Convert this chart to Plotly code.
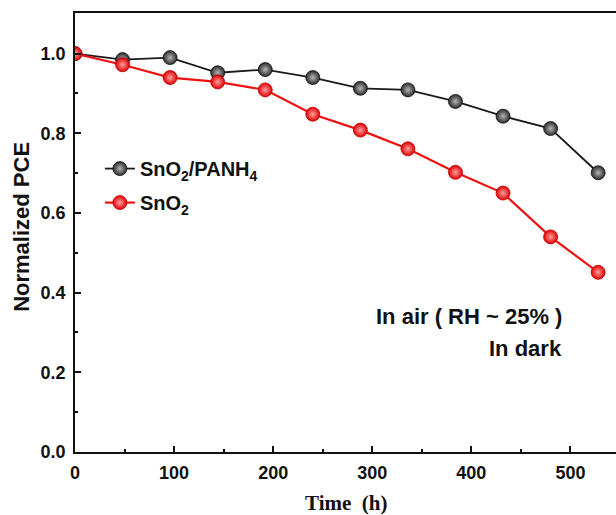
import plotly.graph_objects as go

time_h = [0, 48, 96, 144, 192, 240, 288, 336, 384, 432, 480, 528]
pce_panh4 = [1.00, 0.985, 0.99, 0.952, 0.96, 0.94, 0.913, 0.909, 0.88, 0.843, 0.812, 0.701]
pce_sno2 = [1.00, 0.972, 0.94, 0.929, 0.909, 0.848, 0.808, 0.761, 0.702, 0.650, 0.540, 0.451]

x_ticks = [0, 100, 200, 300, 400, 500]
y_ticks = [0.0, 0.2, 0.4, 0.6, 0.8, 1.0]

fig = go.Figure()
fig.add_trace(go.Scatter(
    x=time_h, y=pce_panh4, mode="lines+markers",
    name="SnO<sub>2</sub>/PANH<sub>4</sub>", legendgroup="a",
    line=dict(color="#1a1a1a", width=1.8),
    marker=dict(size=14, color="#2b2b2b", line=dict(width=0.8, color="#111"),
                gradient=dict(type="radial", color="#b5b5b5")),
))
fig.add_trace(go.Scatter(
    x=time_h, y=pce_sno2, mode="lines+markers",
    name="SnO<sub>2</sub>", legendgroup="b",
    line=dict(color="#ee1111", width=2.2),
    marker=dict(size=14, color="#e00000", line=dict(width=0.8, color="#c00000"),
                gradient=dict(type="radial", color="#ffa0a0")),
))

axis_font = dict(family="Liberation Sans", size=18, color="#111", weight="bold")

fig.update_layout(
    width=616, height=515,
    margin=dict(l=75, r=0, t=13, b=63),
    paper_bgcolor="white", plot_bgcolor="white",
    showlegend=True,
    legend=dict(x=0.046, y=0.69, xanchor="left", yanchor="top",
                font=dict(family="Liberation Sans", size=20, color="#111", weight="bold"),
                bgcolor="rgba(0,0,0,0)", tracegroupgap=5, traceorder="grouped"),
    xaxis=dict(range=[0, 546], tickvals=x_ticks, ticks="inside", ticklen=6,
               tickwidth=1.8, tickcolor="#111", showline=True, linecolor="#111",
               linewidth=1.8, mirror=True, showgrid=False, zeroline=False,
               tickfont=axis_font, ticklabelstandoff=3,
               minor=dict(tickvals=[50, 150, 250, 350, 450], ticks="inside",
                          ticklen=3, tickcolor="#111", tickwidth=1.8)),
    yaxis=dict(range=[0, 1.102], tickvals=y_ticks, tickformat=".1f", ticks="inside",
               ticklen=6, tickwidth=1.8, tickcolor="#111", showline=True,
               linecolor="#111", linewidth=1.8, showgrid=False, zeroline=False,
               tickfont=axis_font, ticklabelstandoff=4,
               minor=dict(tickvals=[0.1, 0.3, 0.5, 0.7, 0.9], ticks="inside",
                          ticklen=3, tickcolor="#111", tickwidth=1.8)),
)

fig.add_annotation(text="Normalized PCE", xref="paper", yref="paper",
                   x=(22 - 75) / 541, y=(452.3 - 227) / 439.3, xanchor="center", yanchor="middle",
                   textangle=-90, showarrow=False,
                   font=dict(family="Liberation Sans", size=22, color="#111", weight="bold"))
fig.add_annotation(text="Time  (h)", xref="paper", yref="paper",
                   x=(346 - 75) / 541, y=(452.3 - 503) / 439.3, xanchor="center", yanchor="middle",
                   showarrow=False,
                   font=dict(family="Liberation Serif", size=21, color="#111", weight="bold"))
fig.add_annotation(text="In air ( RH ~ 25% )", xref="paper", yref="paper",
                   x=(564 - 75) / 541, y=(452.3 - 317) / 439.3, xanchor="right", yanchor="middle",
                   showarrow=False,
                   font=dict(family="Liberation Sans", size=22, color="#111", weight="bold"))
fig.add_annotation(text="In dark", xref="paper", yref="paper",
                   x=(564 - 75) / 541, y=(452.3 - 349) / 439.3, xanchor="right", yanchor="middle",
                   showarrow=False,
                   font=dict(family="Liberation Sans", size=22, color="#111", weight="bold"))

fig.write_html("out.html")
